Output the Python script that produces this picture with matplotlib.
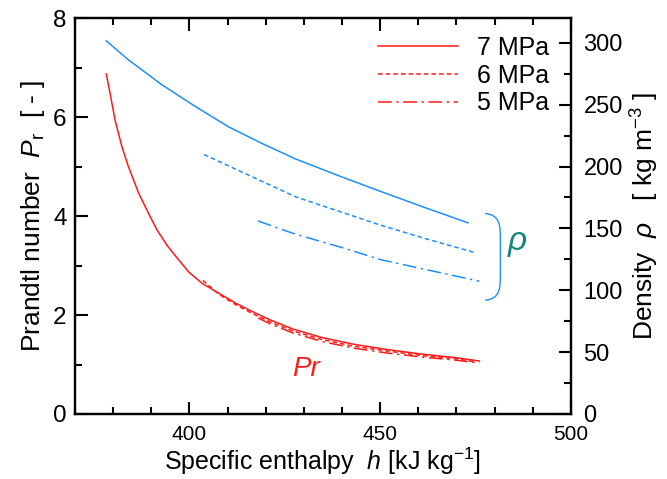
import numpy as np
import matplotlib.pyplot as plt
from matplotlib.path import Path
from matplotlib.patches import PathPatch
from matplotlib.ticker import MultipleLocator

plt.rcParams["font.family"] = ["Liberation Sans", "DejaVu Sans"]
plt.rcParams["mathtext.fontset"] = "custom"
plt.rcParams["mathtext.rm"] = "Liberation Sans"
plt.rcParams["mathtext.it"] = "Liberation Sans:italic"

RED = "#ff1a1a"
BLUE = "#1e8fff"
TEAL = "#15877e"

# Prandtl number vs specific enthalpy
h_pr7 = [378.2, 379.2, 380.5, 382.3, 384.0, 386.7, 389.3, 391.5, 394.1, 396.8,
         399.8, 403.3, 407.7, 412.1, 416.5, 420.9, 427, 434.5, 443, 452, 461,
         469.6, 476]
pr7 = [6.87, 6.48, 5.94, 5.40, 5.00, 4.46, 4.05, 3.72, 3.41, 3.15,
       2.87, 2.64, 2.44, 2.24, 2.07, 1.91, 1.72, 1.55, 1.41, 1.30, 1.21,
       1.14, 1.07]
h_pr6 = [403.5, 407.7, 412.1, 416.5, 420.9, 427, 434.5, 443, 452, 461, 469.6, 475]
pr6 = [2.70, 2.42, 2.21, 2.03, 1.87, 1.68, 1.51, 1.37, 1.27, 1.18, 1.12, 1.05]
h_pr5 = [418, 420.9, 427, 434.5, 443, 452, 461, 469.6, 476]
pr5 = [1.94, 1.83, 1.64, 1.47, 1.33, 1.23, 1.15, 1.09, 1.03]

# Density vs specific enthalpy
h_rho7 = [378.2, 384, 392.8, 401.6, 410.3, 419.1, 427.9, 440, 450, 462, 473]
rho7 = [301.6, 286.2, 266, 248.4, 232, 218.5, 206, 191.5, 180, 166.5, 154.5]
h_rho6 = [403.8, 427.9, 450.3, 462, 475]
rho6 = [209.7, 175.4, 152.4, 141.6, 130.3]
h_rho5 = [418, 427.4, 440, 450.3, 476]
rho5 = [156, 145.7, 134.5, 124.6, 107.3]

pressures = ["7 MPa", "6 MPa", "5 MPa"]
styles = ["-", (0, (3, 2)), (0, (9, 3, 1.5, 3))]

fig = plt.figure(figsize=(6.67, 4.79), dpi=100)
ax = fig.add_axes([0.1124, 0.1357, 0.7436, 0.8267])
ax2 = ax.twinx()

lw = 1.1
pr_sets = [(h_pr7, pr7), (h_pr6, pr6), (h_pr5, pr5)]
rho_sets = [(h_rho7, rho7), (h_rho6, rho6), (h_rho5, rho5)]
for (hx, pr), ls, lab in zip(pr_sets, styles, pressures):
    ax.plot(hx, pr, color=RED, ls=ls, lw=lw, label=lab)
for (hx, rho), ls in zip(rho_sets, styles):
    ax2.plot(hx, rho, color=BLUE, ls=ls, lw=lw)

ax.set_xlim(370, 500)
ax.set_ylim(0, 8)
ax2.set_ylim(0, 320)

ax.xaxis.set_major_locator(MultipleLocator(50))
ax.xaxis.set_minor_locator(MultipleLocator(10))
ax.yaxis.set_major_locator(MultipleLocator(2))
ax.yaxis.set_minor_locator(MultipleLocator(1))
ax2.yaxis.set_major_locator(MultipleLocator(50))
ax2.yaxis.set_minor_locator(MultipleLocator(25))

for a in (ax, ax2):
    for sp in a.spines.values():
        sp.set_linewidth(1.6)
ax.tick_params(which="both", direction="in", top=True, width=1.5)
ax.tick_params(which="major", length=9)
ax.tick_params(which="minor", length=5)
ax.tick_params(axis="y", labelsize=17.5, pad=6)
ax.tick_params(axis="x", labelsize=15, pad=8)
ax2.tick_params(which="both", direction="in", width=1.5, labelsize=17, pad=9)
ax2.tick_params(which="major", length=9)
ax2.tick_params(which="minor", length=5)

ax.set_xlabel(r"Specific enthalpy  $h$ [kJ kg$^{-1}$]", fontsize=18, labelpad=1)
ax.set_ylabel(r"Prandtl number  $P_{\mathrm{r}}$  [ - ]", fontsize=19, labelpad=4)
ax2.set_ylabel(r"Density  $\rho$   [ kg m$^{-3}$ ]", fontsize=19, labelpad=4)

# bracket grouping the density curves
verts = [(477.5, 162), (481.5, 161), (481.5, 152), (481.5, 140),
         (481.5, 114),
         (481.5, 102), (481.5, 93), (477.5, 92)]
codes = [Path.MOVETO, Path.CURVE4, Path.CURVE4, Path.CURVE4,
         Path.LINETO,
         Path.CURVE4, Path.CURVE4, Path.CURVE4]
ax2.add_patch(PathPatch(Path(verts, codes), fill=False, edgecolor=BLUE, lw=1.0))
ax2.text(486, 138, r"$\rho$", color=TEAL, fontsize=24, ha="center", va="center")
ax.text(430.5, 0.9, "Pr", color=RED, fontsize=20, style="italic",
        ha="center", va="center")

ax.legend(loc="upper right", frameon=False, fontsize=18, handlelength=3.2,
          handletextpad=0.75, labelspacing=0.15, borderpad=0, borderaxespad=0,
          bbox_to_anchor=(0.955, 0.955))

fig.savefig("out.png", dpi=100)
